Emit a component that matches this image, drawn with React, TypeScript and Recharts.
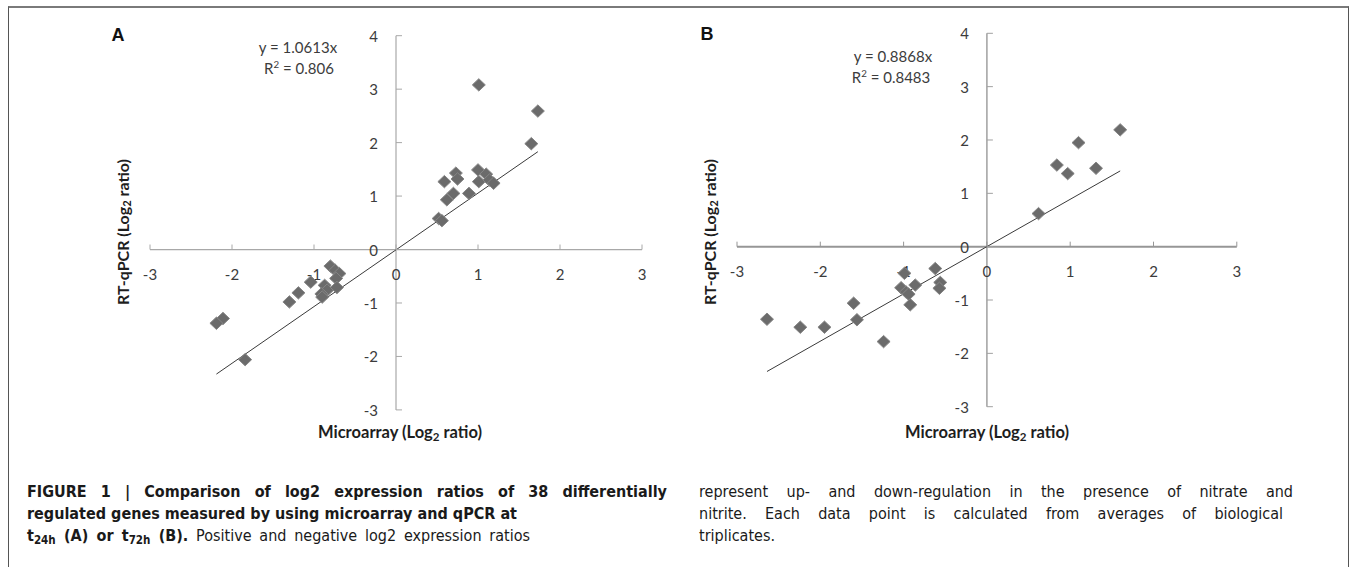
import React from "react";
import { ScatterChart, Scatter, XAxis, YAxis, ReferenceLine } from "recharts";

// ---- data ----
const xTicks = [-3, -2, -1, 0, 1, 2, 3];
const yTicks = [-3, -2, -1, 0, 1, 2, 3, 4];

const pointsAx = [1.01, 1.73, 1.65, 1.0, 1.01, 1.1, 1.14, 1.19, 0.89, 0.59, 0.73, 0.75, 0.7, 0.62, 0.52, 0.56,
  -0.8, -0.74, -0.69, -0.73, -0.87, -0.84, -0.72, -0.91, -0.9, -1.04, -1.19, -1.3, -2.11, -2.19, -1.84];
const pointsAy = [3.08, 2.59, 1.98, 1.49, 1.27, 1.41, 1.3, 1.24, 1.05, 1.27, 1.43, 1.32, 1.05, 0.93, 0.58, 0.54,
  -0.31, -0.39, -0.45, -0.54, -0.67, -0.76, -0.71, -0.83, -0.89, -0.61, -0.81, -0.98, -1.29, -1.38, -2.06];

const pointsBx = [1.6, 1.1, 0.84, 0.97, 1.31, 0.62, -0.62, -0.99, -0.56, -0.57, -0.86, -1.03, -0.97, -0.94, -0.92,
  -1.6, -1.56, -2.64, -2.24, -1.95, -1.24];
const pointsBy = [2.19, 1.95, 1.53, 1.37, 1.47, 0.62, -0.41, -0.5, -0.67, -0.78, -0.72, -0.77, -0.85, -0.89, -1.09,
  -1.06, -1.37, -1.36, -1.51, -1.51, -1.78];

// trend lines (endpoints)
const trendA = [{ x: -2.19, y: -2.33 }, { x: 1.73, y: 1.83 }];
const trendB = [{ x: -2.64, y: -2.34 }, { x: 1.6, y: 1.42 }];

const eqA = ["y = 1.0613x", "0.806"];
const eqB = ["y = 0.8868x", "0.8483"];

// ---- helpers ----
const toPts = (xs: number[], ys: number[]) => xs.map((x, i) => ({ x, y: ys[i] }));
const xTickData = xTicks.map((t) => ({ x: t, y: 0, label: String(t) }));
const yTickData = yTicks.map((t) => ({ x: 0, y: t, label: String(t) }));

const FONT = "Lato, 'Open Sans', 'Liberation Sans', sans-serif";
const CAPFONT = "'Liberation Sans Narrow', 'DejaVu Sans Condensed', 'Liberation Sans', Arial, sans-serif";
const TXT = "#3c3c3c";

const Diamond = (p: any) => {
  const { cx, cy } = p;
  if (cx == null || cy == null) return null;
  const w = 6.5, h = 6.2;
  return (
    <polygon
      points={`${cx},${cy - h} ${cx + w},${cy} ${cx},${cy + h} ${cx - w},${cy}`}
      fill="#6b6b6b"
      stroke="#858585"
      strokeWidth={1}
    />
  );
};

const makeXTick = (color: string) => (p: any) => {
  const { cx, cy, payload } = p;
  return (
    <g>
      <line x1={cx} y1={cy} x2={cx} y2={cy - 5} stroke={color} strokeWidth={1} />
      <text x={cx} y={cy + 24} textAnchor="middle" dominantBaseline="central" fontSize={15} fill={TXT} fontFamily={FONT}>
        {payload.label}
      </text>
    </g>
  );
};
const makeYTick = (color: string) => (p: any) => {
  const { cx, cy, payload } = p;
  return (
    <g>
      <line x1={cx} y1={cy} x2={cx + 6} y2={cy} stroke={color} strokeWidth={1} />
      <text x={cx - 18} y={cy} textAnchor="end" dominantBaseline="central" fontSize={15} fill={TXT} fontFamily={FONT}>
        {payload.label}
      </text>
    </g>
  );
};

type PanelProps = {
  pts: { x: number; y: number }[];
  trend: { x: number; y: number }[];
  width: number;
  height: number;
  margin: { top: number; right: number; bottom: number; left: number };
  xAxisColor: string;
  xAxisWidth: number;
  yAxisColor: string;
  yAxisWidth: number;
};

const Panel = ({ pts, trend, width, height, margin, xAxisColor, xAxisWidth, yAxisColor, yAxisWidth }: PanelProps) => (
  <ScatterChart width={width} height={height} margin={margin} style={{ overflow: "visible" }}>
    <XAxis type="number" dataKey="x" domain={[-3, 3]} ticks={xTicks} hide />
    <YAxis type="number" dataKey="y" domain={[-3, 4]} ticks={yTicks} hide />
    <ReferenceLine y={0} stroke={xAxisColor} strokeWidth={xAxisWidth} ifOverflow="visible" />
    <ReferenceLine x={0} stroke={yAxisColor} strokeWidth={yAxisWidth} ifOverflow="visible" />
    <Scatter data={xTickData} shape={makeXTick(xAxisColor)} isAnimationActive={false} />
    <Scatter data={yTickData} shape={makeYTick(yAxisColor)} isAnimationActive={false} />
    <ReferenceLine segment={trend} stroke="#3a3a3a" strokeWidth={1} ifOverflow="visible" />
    <Scatter data={pts} shape={Diamond} isAnimationActive={false} />
  </ScatterChart>
);

const abs = (x: number, y: number, extra: React.CSSProperties = {}): React.CSSProperties => ({
  position: "absolute",
  left: x,
  top: y,
  transform: "translate(-50%, -50%)",
  whiteSpace: "nowrap",
  ...extra,
});

const Log2Title = ({ pre }: { pre: string }) => (
  <span>
    {pre} (Log<sub style={{ fontSize: "0.7em", verticalAlign: "-0.25em", lineHeight: 0 }}>2</sub> ratio)
  </span>
);

const capLine = (w: number, bold = false): React.CSSProperties => ({
  width: w,
  textAlign: "justify",
  textAlignLast: "justify",
  fontWeight: bold ? 700 : 400,
  whiteSpace: "nowrap",
  height: 22,
  lineHeight: "22px",
});

const subS: React.CSSProperties = { fontSize: "0.72em", verticalAlign: "-0.3em", lineHeight: 0 };

const yTitleStyle = (x: number): React.CSSProperties =>
  abs(x, 232, { transform: "translate(-50%, -50%) rotate(-90deg)", fontSize: 16, fontWeight: 700, color: "#1e1e1e" });
const xTitleStyle = (x: number): React.CSSProperties =>
  abs(x, 432, { fontSize: 16.5, fontWeight: 700, color: "#1e1e1e" });

export default function App() {
  return (
    <div
      style={{
        position: "absolute",
        left: 0,
        top: 0,
        width: 1357,
        height: 567,
        background: "#fff",
        overflow: "hidden",
        fontFamily: FONT,
      }}
    >
      <style>{".recharts-surface{overflow:visible}"}</style>
      {/* frame */}
      <div
        style={{
          position: "absolute",
          left: 8,
          top: 6,
          width: 1349 - 8,
          height: 600,
          borderTop: "2px solid #7a7a7a",
          borderLeft: "1px solid #555",
          borderRight: "1px solid #555",
          boxSizing: "border-box",
        }}
      />

      {/* panel A */}
      <div style={{ position: "absolute", left: 0, top: 0 }}>
        <Panel
          pts={toPts(pointsAx, pointsAy)}
          trend={trendA}
          width={680}
          height={450}
          margin={{ top: 35.7, right: 38, bottom: 40.1, left: 150 }}
          xAxisColor="#a8a8a8"
          xAxisWidth={1.2}
          yAxisColor="#a8a8a8"
          yAxisWidth={1.2}
        />
      </div>
      {/* panel B */}
      <div style={{ position: "absolute", left: 680, top: 0 }}>
        <Panel
          pts={toPts(pointsBx, pointsBy)}
          trend={trendB}
          width={677}
          height={450}
          margin={{ top: 33.3, right: 120.2, bottom: 43.3, left: 57 }}
          xAxisColor="#969696"
          xAxisWidth={2}
          yAxisColor="#a0a0a0"
          yAxisWidth={1.5}
        />
      </div>

      {/* panel letters */}
      <div style={abs(118, 35, { fontFamily: "'Liberation Sans', Arial, sans-serif", fontWeight: 700, fontSize: 18, color: "#111" })}>A</div>
      <div style={abs(707, 34, { fontFamily: "'Liberation Sans', Arial, sans-serif", fontWeight: 700, fontSize: 18, color: "#111" })}>B</div>

      {/* equations */}
      <div style={abs(298, 47, { fontSize: 15, color: TXT })}>{eqA[0]}</div>
      <div style={abs(299, 68, { fontSize: 15, color: TXT })}>
        R<sup style={{ fontSize: "0.65em", verticalAlign: "0.6em", lineHeight: 0 }}>2</sup> = {eqA[1]}
      </div>
      <div style={abs(893, 56, { fontSize: 15, color: TXT })}>{eqB[0]}</div>
      <div style={abs(891, 77, { fontSize: 15, color: TXT })}>
        R<sup style={{ fontSize: "0.65em", verticalAlign: "0.6em", lineHeight: 0 }}>2</sup> = {eqB[1]}
      </div>

      {/* axis titles */}
      <div style={yTitleStyle(122)}>
        <Log2Title pre="RT-qPCR" />
      </div>
      <div style={yTitleStyle(709)}>
        <Log2Title pre="RT-qPCR" />
      </div>
      <div style={xTitleStyle(400)}>
        <Log2Title pre="Microarray" />
      </div>
      <div style={xTitleStyle(987)}>
        <Log2Title pre="Microarray" />
      </div>

      {/* caption */}
      <div
        style={{
          position: "absolute",
          left: 27,
          top: 481,
          fontFamily: CAPFONT,
          fontSize: 16,
          color: "#1a1a1a",
        }}
      >
        <div style={capLine(640, true)}>FIGURE 1 | Comparison of log2 expression ratios of 38 differentially</div>
        <div style={capLine(490, true)}>regulated genes measured by using microarray and qPCR at</div>
        <div style={capLine(503)}>
          <b>t<sub style={subS}>24h</sub> (A) or t<sub style={subS}>72h</sub> (B).</b> Positive and negative log2 expression ratios
        </div>
      </div>
      <div
        style={{
          position: "absolute",
          left: 699,
          top: 481,
          fontFamily: CAPFONT,
          fontSize: 16,
          color: "#1a1a1a",
        }}
      >
        <div style={capLine(594)}>represent up- and down-regulation in the presence of nitrate and</div>
        <div style={capLine(584)}>nitrite. Each data point is calculated from averages of biological</div>
        <div style={{ height: 22, lineHeight: "22px" }}>triplicates.</div>
      </div>
    </div>
  );
}
